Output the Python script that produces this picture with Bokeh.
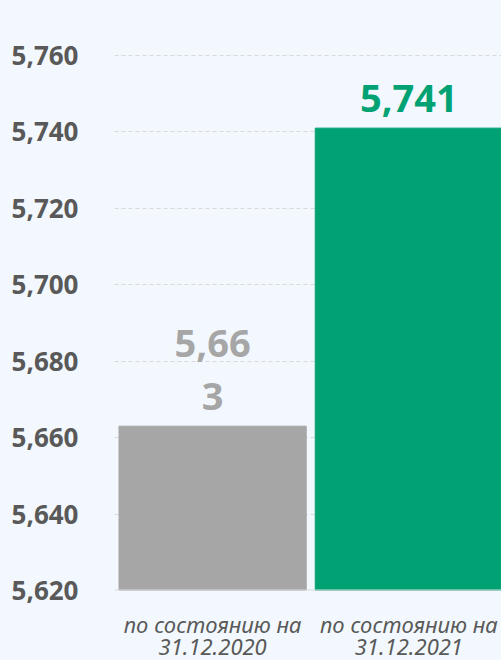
from bokeh.plotting import figure
from bokeh.models import Range1d, FixedTicker, ColumnDataSource, NumeralTickFormatter, Span
from bokeh.layouts import column
from bokeh.embed import file_html
from bokeh.resources import INLINE
from bokeh.core.properties import value

categories = ["по состоянию на\n31.12.2020", "по состоянию на\n31.12.2021"]
values = [5663, 5741]
value_labels = ["5,66\n3", "5,741"]
colors = ["#a6a6a6", "#00a273"]
y_ticks = [5620, 5640, 5660, 5680, 5700, 5720, 5740, 5760]

BG = "#f2f8fd"
xs = list(range(len(categories)))

src = ColumnDataSource(dict(x=xs, top=values, color=colors, label=value_labels,
                            yoff=[-5, -16]))

p = figure(width=501, height=607, output_backend="svg", toolbar_location=None,
           x_range=Range1d(-0.5, 1.472), y_range=Range1d(5620, 5774.4),
           min_border_left=114, min_border_right=0, min_border_top=0, min_border_bottom=17)
p.background_fill_color = BG
p.border_fill_color = BG
p.outline_line_color = None

p.vbar(x="x", top="top", bottom=5620, width=0.954, color="color", source=src)
p.text(x="x", y="top", text="label", source=src, text_color="color",
       text_align="center", text_baseline="bottom", y_offset="yoff",
       text_font=value("Open Sans"), text_font_style="bold", text_font_size="38px",
       text_line_height=1.02)

p.yaxis.ticker = FixedTicker(ticks=y_ticks)
p.yaxis.formatter = NumeralTickFormatter(format="0,0")
p.yaxis.axis_line_color = None
p.yaxis.major_tick_line_color = None
p.yaxis.minor_tick_line_color = None
p.yaxis.major_tick_out = 0
p.yaxis.major_label_standoff = 36
p.yaxis.major_label_text_font = "Open Sans"
p.yaxis.major_label_text_font_style = "bold"
p.yaxis.major_label_text_font_size = "26px"
p.yaxis.major_label_text_color = "#595959"
p.xaxis.visible = False

p.xgrid.grid_line_color = None
p.ygrid.ticker = FixedTicker(ticks=y_ticks)
p.ygrid.grid_line_color = "#d9d9d9"
p.ygrid.grid_line_dash = "4 3"
p.add_layout(Span(location=y_ticks[0], dimension="width", line_color="#d9d9d9", line_width=2))

# category labels in a strip below the plot, sharing the x range
lx, ly, lt, lo = [], [], [], []
for xi, cat in zip(xs, categories):
    for j, line in enumerate(cat.split("\n")):
        lx.append(xi)
        ly.append(1)
        lt.append(line)
        lo.append(16 + 23 * j)
lsrc = ColumnDataSource(dict(x=lx, y=ly, text=lt, yoff=lo))

q = figure(width=501, height=53, output_backend="svg", toolbar_location=None,
           x_range=p.x_range, y_range=Range1d(0, 1),
           min_border_left=114, min_border_right=0, min_border_top=0, min_border_bottom=0)
q.background_fill_color = BG
q.border_fill_color = BG
q.outline_line_color = None
q.axis.visible = False
q.grid.visible = False
q.text(x="x", y="y", text="text", source=lsrc, y_offset="yoff",
       text_align="center", text_baseline="middle",
       text_font=value("Noto Sans"), text_font_style="italic",
       text_font_size="22px", text_color="#595959")

layout = column(p, q, spacing=0)
html = file_html(layout, INLINE)
html = html.replace("<head>", "<head><style>body{background:%s;}</style>" % BG, 1)
open("out.html", "w").write(html)
